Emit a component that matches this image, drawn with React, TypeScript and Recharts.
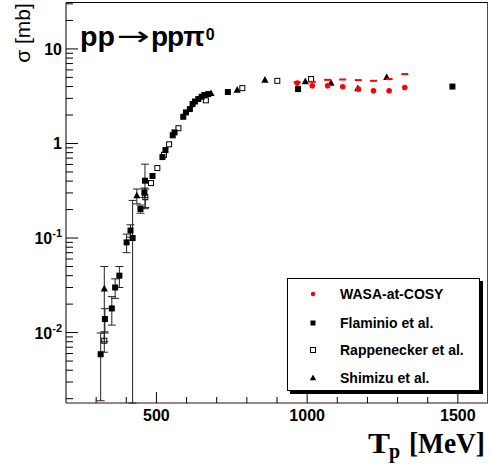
import React from "react";
import { ScatterChart, Scatter, XAxis, YAxis, ErrorBar } from "recharts";

const X_DOMAIN: [number, number] = [200, 1600];
const Y_DOMAIN: [number, number] = [0.0018, 30.6];

const xTicks = [300, 400, 500, 600, 700, 800, 900, 1000, 1100, 1200, 1300, 1400, 1500];
const xMajorTicks = [500, 1000, 1500];
const yTicks = [
  0.002, 0.003, 0.004, 0.005, 0.006, 0.007, 0.008, 0.009,
  0.01, 0.02, 0.03, 0.04, 0.05, 0.06, 0.07, 0.08, 0.09,
  0.1, 0.2, 0.3, 0.4, 0.5, 0.6, 0.7, 0.8, 0.9,
  1, 2, 3, 4, 5, 6, 7, 8, 9,
  10, 20, 30,
];
const yMajorTicks = [0.01, 0.1, 1, 10];
const yMajorBase = ["10", "10", "1", "10"];
const yMajorExp = ["-2", "-1", "", ""];

// WASA-at-COSY
const wasaT = [967, 1017, 1068, 1118, 1170, 1220, 1272, 1324];
const wasaSigma = [4.35, 4.07, 4.07, 3.98, 3.76, 3.61, 3.61, 3.91];
const wasaDashSigma = [4.45, 4.49, 4.71, 4.75, 4.68, 4.6, 4.8, 5.42];

// Flaminio et al.
const flaminioT = [315, 329, 352, 363, 377, 401, 414, 421, 447, 460, 462, 487, 520, 530, 554, 560, 589, 598, 611, 620, 628, 639, 650, 659, 672, 737, 970, 1482];
const flaminioSigma = [0.0059, 0.0139, 0.018, 0.03, 0.04, 0.09, 0.12, 0.1, 0.203, 0.303, 0.404, 0.453, 0.718, 0.852, 1.22, 1.31, 1.915, 2.13, 2.31, 2.61, 2.78, 2.95, 3.12, 3.25, 3.33, 3.5, 3.76, 4.0];
const flaminioErrLow = [0.004, 0.004, 0.006, 0.007, 0.01, 0.02, 0.018, 0.0982, 0.02, 0.035, 0.2, 0, 0, 0, 0, 0, 0, 0, 0, 0, 0, 0, 0, 0, 0, 0, 0, 0];
const flaminioErrHigh = [0.004, 0.004, 0.006, 0.007, 0.01, 0.02, 0.018, 0.15, 0.02, 0.035, 0.2, 0, 0, 0, 0, 0, 0, 0, 0, 0, 0, 0, 0, 0, 0, 0, 0, 0];

// Rappenecker et al.
const rappT = [327, 463, 482, 503, 525, 542, 573, 664, 785, 901, 1013];
const rappSigma = [0.0082, 0.27, 0.381, 0.55, 0.76, 0.98, 1.45, 2.86, 3.85, 4.6, 4.8];
const rappErr = [0.002, 0.06, 0, 0, 0, 0, 0, 0, 0, 0, 0];

// Shimizu et al.
const shimizuT = [327, 435, 681, 768, 860, 994, 1079, 1168, 1264];
const shimizuSigma = [0.029, 0.28, 3.38, 3.67, 4.68, 4.51, 4.35, 3.81, 4.99];
const shimizuErr = [0.021, 0.05, 0, 0, 0, 0, 0, 0, 0];

const wasaData = wasaT.map((t, i) => ({ t, s: wasaSigma[i] }));
const wasaDashData = wasaT.map((t, i) => ({ t, s: wasaDashSigma[i] }));
const flaminioData = flaminioT.map((t, i) => ({
  t,
  s: flaminioSigma[i],
  err: flaminioErrHigh[i] > 0 ? [flaminioErrLow[i], flaminioErrHigh[i]] : 0,
}));
const rappData = rappT.map((t, i) => ({ t, s: rappSigma[i], err: rappErr[i] }));
const shimizuData = shimizuT.map((t, i) => ({ t, s: shimizuSigma[i], err: shimizuErr[i] }));

const SANS = "'Liberation Sans', Arial, Helvetica, sans-serif";
const SERIF = "'Liberation Serif', 'Times New Roman', serif";

const FilledSquare = (p: any) => (
  <rect x={p.cx - 3} y={p.cy - 3} width={6} height={6} fill="#000" />
);
const OpenSquare = (p: any) => (
  <rect x={p.cx - 2.5} y={p.cy - 2.5} width={5} height={5} fill="none" stroke="#000" strokeWidth={1} />
);
const Triangle = (p: any) => (
  <polygon
    points={`${p.cx},${p.cy - 4} ${p.cx - 3.6},${p.cy + 2.6} ${p.cx + 3.6},${p.cy + 2.6}`}
    fill="#000"
  />
);
const RedDot = (p: any) => <circle cx={p.cx} cy={p.cy} r={2.8} fill="#ff0000" />;
const RedDash = (p: any) => (
  <rect x={p.cx - 3.5} y={p.cy - 1} width={7} height={2} fill="#ff0000" />
);

const renderXTick = (props: any) => {
  const { x, y, payload } = props;
  const v = payload.value;
  const major = xMajorTicks.includes(v);
  return (
    <g>
      <line x1={x} x2={x} y1={y} y2={y - (major ? 11 : 6)} stroke="#000" strokeWidth={1} />
      {major && (
        <text x={x} y={y + 18} textAnchor="middle" fontFamily={SANS} fontWeight="bold" fontSize={16} fill="#000">
          {v}
        </text>
      )}
    </g>
  );
};

const renderYTick = (props: any) => {
  const { x, y, payload } = props;
  const v = payload.value;
  const idx = yMajorTicks.indexOf(v);
  const major = idx >= 0;
  return (
    <g>
      <line x1={x} x2={x + (major ? 12 : 7)} y1={y} y2={y} stroke="#000" strokeWidth={1} />
      {major && (
        <text x={x - 4} y={y + 6} textAnchor="end" fontFamily={SANS} fontWeight="bold" fontSize={16} fill="#000">
          {yMajorBase[idx]}
          {yMajorExp[idx] && (
            <tspan fontSize={11} dy={-7}>
              {yMajorExp[idx]}
            </tspan>
          )}
        </text>
      )}
    </g>
  );
};

const legendRows = [
  { label: "WASA-at-COSY", kind: "dot" },
  { label: "Flaminio et al.", kind: "fsq" },
  { label: "Rappenecker et al.", kind: "osq" },
  { label: "Shimizu et al.", kind: "tri" },
];
const legendRowY = [15, 44, 71, 99];

const LegendMarker = ({ kind }: { kind: string }) => (
  <svg width={12} height={12} style={{ display: "block" }}>
    {kind === "dot" && <circle cx={6} cy={6} r={2.2} fill="#ff0000" />}
    {kind === "fsq" && <rect x={3.5} y={3.5} width={5} height={5} fill="#000" />}
    {kind === "osq" && <rect x={3.5} y={3.5} width={5} height={5} fill="none" stroke="#000" />}
    {kind === "tri" && <polygon points="6,2.5 2.8,8.3 9.2,8.3" fill="#000" />}
  </svg>
);

export default function App() {
  return (
    <div style={{ position: "absolute", left: 0, top: 0, width: 490, height: 466, background: "#fff" }}>
      <ScatterChart width={490} height={466} margin={{ top: 3, right: 2, bottom: 0, left: 0 }}>
        <XAxis
          type="number"
          dataKey="t"
          domain={X_DOMAIN}
          allowDataOverflow
          ticks={xTicks}
          interval={0}
          tickSize={0}
          tickMargin={0}
          tickLine={false}
          axisLine={{ stroke: "#3a0a0a" }}
          height={63}
          tick={renderXTick}
        />
        <YAxis
          type="number"
          dataKey="s"
          scale="log"
          domain={Y_DOMAIN}
          allowDataOverflow
          ticks={yTicks}
          interval={0}
          tickSize={0}
          tickMargin={0}
          tickLine={false}
          axisLine={{ stroke: "#000" }}
          width={66}
          tick={renderYTick}
        />
        <Scatter data={flaminioData} shape={FilledSquare} isAnimationActive={false}>
          <ErrorBar dataKey="err" direction="y" width={4} stroke="#222" strokeWidth={1} />
        </Scatter>
        <Scatter data={rappData} shape={OpenSquare} isAnimationActive={false}>
          <ErrorBar dataKey="err" direction="y" width={4} stroke="#222" strokeWidth={1} />
        </Scatter>
        <Scatter data={shimizuData} shape={Triangle} isAnimationActive={false}>
          <ErrorBar dataKey="err" direction="y" width={4} stroke="#222" strokeWidth={1} />
        </Scatter>
        <Scatter data={wasaDashData} shape={RedDash} isAnimationActive={false} legendType="none" />
        <Scatter data={wasaData} shape={RedDot} isAnimationActive={false} />
      </ScatterChart>

      {/* frame top/right */}
      <div
        style={{
          position: "absolute",
          left: 66,
          top: 2,
          width: 422,
          height: 401,
          borderTop: "1px solid #000",
          borderRight: "1px solid #b02020",
          boxSizing: "border-box",
          pointerEvents: "none",
        }}
      />

      {/* legend */}
      <div
        style={{
          position: "absolute",
          left: 287,
          top: 278,
          width: 193,
          height: 113,
          border: "1px solid #000",
          boxShadow: "3px 3px 0 #000",
          background: "#fff",
          boxSizing: "border-box",
          fontFamily: SANS,
          fontWeight: "bold",
          fontSize: 14,
        }}
      >
        {legendRows.map((r, i) => (
          <div
            key={r.label}
            style={{
              position: "absolute",
              left: 0,
              top: legendRowY[i] - 8,
              height: 16,
            }}
          >
            <div style={{ position: "absolute", left: 19, top: 2 }}>
              <LegendMarker kind={r.kind} />
            </div>
            <div style={{ position: "absolute", left: 52, top: 0, whiteSpace: "nowrap", lineHeight: "16px" }}>
              {r.label}
            </div>
          </div>
        ))}
      </div>

      {/* texts */}
      <svg width={490} height={466} style={{ position: "absolute", left: 0, top: 0, pointerEvents: "none" }}>
        <text x={80} y={46} fontFamily={SANS} fontWeight="bold" fontSize={28} textLength={35} lengthAdjust="spacingAndGlyphs">
          pp
        </text>
        <text x={117} y={45} fontFamily="'DejaVu Sans', sans-serif" fontSize={26} textLength={33} lengthAdjust="spacingAndGlyphs">
          →
        </text>
        <text x={151} y={46} fontFamily={SANS} fontWeight="bold" fontSize={28} letterSpacing={-1}>
          ppπ
          <tspan dx={2} dy={-6} fontSize={16} letterSpacing={0}>
            0
          </tspan>
        </text>
        <text
          x={30}
          y={33}
          transform="rotate(-90 30 33)"
          textAnchor="middle"
          fontFamily={SANS}
          fontSize={21}
        >
          σ [mb]
        </text>
        <text x={368} y={453} fontFamily={SERIF} fontWeight="bold" fontSize={30} textLength={22} lengthAdjust="spacingAndGlyphs">
          T
        </text>
        <text x={389} y={458} fontFamily={SERIF} fontWeight="bold" fontSize={20}>
          p
        </text>
        <text
          x={409}
          y={453}
          fontFamily={SERIF}
          fontWeight="bold"
          fontSize={29}
          textLength={76}
          lengthAdjust="spacingAndGlyphs"
        >
          [MeV]
        </text>
      </svg>
    </div>
  );
}
